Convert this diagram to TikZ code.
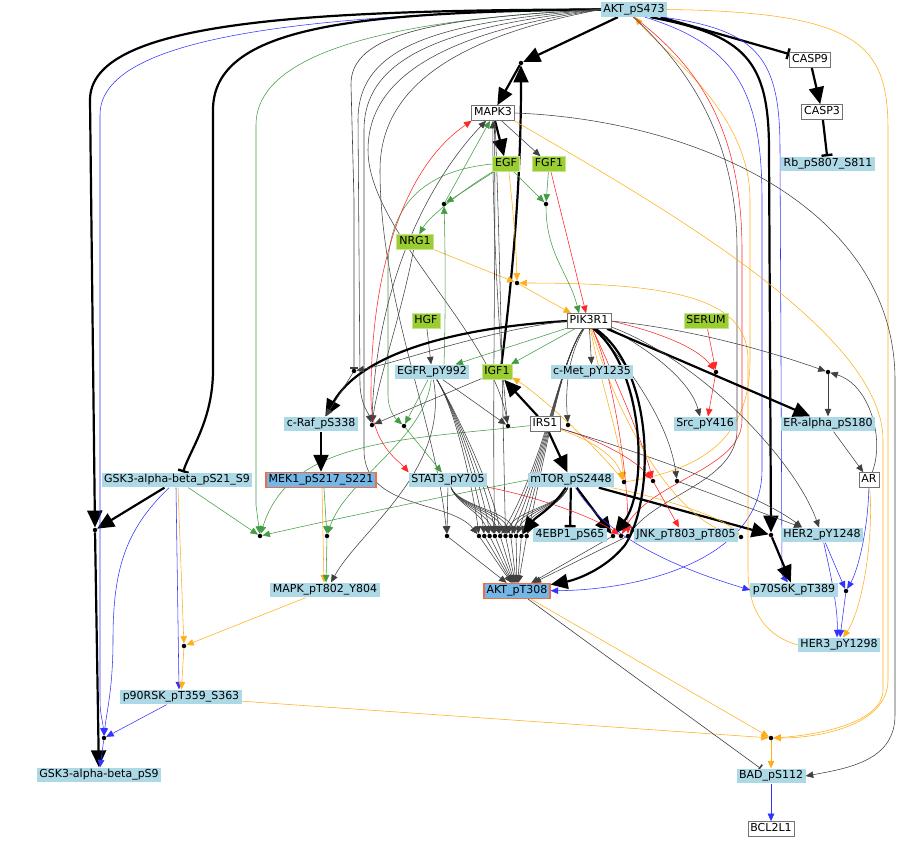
\documentclass[tikz,border=0pt]{standalone}
\usepackage{fontspec}
\setmainfont{DejaVu Sans}
\usetikzlibrary{arrows.meta,calc}
\pgfdeclarelayer{edges}
\pgfsetlayers{edges,main}
\definecolor{lb}{HTML}{ADD8E6}
\definecolor{yg}{HTML}{9ACD32}
\definecolor{hlfill}{RGB}{116,182,230}
\definecolor{hlline}{RGB}{240,110,70}
\definecolor{org}{HTML}{FFA500}
\definecolor{grn}{HTML}{228B22}
\definecolor{blu}{HTML}{0000FF}
\definecolor{rd}{HTML}{FF0000}
\tikzset{
  prot/.style={fill=lb, inner xsep=2.5pt, inner ysep=2pt, text height=8.3pt, text depth=2.6pt},
  gene/.style={prot, fill=white, draw=black!55, line width=0.7pt},
  lig/.style={prot, fill=yg, draw=yg!55, line width=0.7pt},
  hl/.style={prot, fill=hlfill, draw=hlline, line width=1.5pt},
  jn/.style={circle, fill=black, inner sep=0pt, minimum size=4.5pt},
  ed/.style={line width=0.55pt, draw=black!75, -{Triangle[length=7.5pt,width=6.5pt]}},
  Ed/.style={line width=2.2pt, draw=black, -{Triangle[length=17pt,width=15pt]}},
  inh/.style={line width=0.6pt, draw=black!75, -{Bar[width=8pt,line width=1.6pt]}},
  Inh/.style={line width=2.2pt, draw=black, -{Bar[width=11pt,line width=2.4pt]}},
  cg/.style={draw=grn!85}, cr/.style={draw=rd!85}, co/.style={draw=org!90}, cb/.style={draw=blu!80},
}
\begin{document}
\begin{tikzpicture}[x=1pt,y=-1pt,font=\fontsize{11}{13}\selectfont]
\useasboundingbox (0,0) rectangle (910,841);
% species
\node[prot] (akt473) at (634,9.5) {AKT\_pS473};
\node[gene] (casp9) at (810,60) {CASP9};
\node[gene] (casp3) at (822,112) {CASP3};
\node[prot] (rb) at (828,164) {Rb\_pS807\_S811};
\node[gene] (mapk3) at (493,113) {MAPK3};
\node[lig] (egf) at (506,164) {EGF};
\node[lig] (fgf1) at (549,164) {FGF1};
\node[lig] (nrg1) at (415,242) {NRG1};
\node[lig] (hgf) at (426,321) {HGF};
\node[gene] (pik3r1) at (589,321) {PIK3R1};
\node[lig] (serum) at (706,321) {SERUM};
\node[prot] (egfr) at (432,372) {EGFR\_pY992};
\node[lig] (igf1) at (497,372) {IGF1};
\node[prot] (cmet) at (592,372) {c-Met\_pY1235};
\node[prot] (craf) at (321,424) {c-Raf\_pS338};
\node[gene] (irs1) at (545,424) {IRS1};
\node[prot] (src) at (705,424) {Src\_pY416};
\node[prot] (era) at (828,424) {ER-alpha\_pS180};
\node[prot] (gsk21) at (177,480) {GSK3-alpha-beta\_pS21\_S9};
\node[hl] (mek1) at (321,480) {MEK1\_pS217\_S221};
\node[prot] (stat3) at (448,480) {STAT3\_pY705};
\node[prot] (mtor) at (571,480) {mTOR\_pS2448};
\node[gene] (ar) at (869,480) {AR};
\node[prot] (ebp) at (570,535) {4EBP1\_pS65};
\node[prot] (jnk) at (686,535) {JNK\_pT803\_pT805};
\node[prot] (her2) at (822,535) {HER2\_pY1248};
\node[prot] (mapk802) at (325,590) {MAPK\_pT802\_Y804};
\node[hl] (akt308) at (517,591) {AKT\_pT308};
\node[prot] (p70) at (794,590) {p70S6K\_pT389};
\node[prot] (her3) at (839,645) {HER3\_pY1298};
\node[prot] (p90) at (181,697) {p90RSK\_pT359\_S363};
\node[prot] (gsk9) at (99,775) {GSK3-alpha-beta\_pS9};
\node[prot] (bad) at (771,776) {BAD\_pS112};
\node[gene] (bcl) at (771,829) {BCL2L1};
% junctions
\node[jn] (dA) at (521,63) {};
\node[jn] (dB) at (444,204) {};
\node[jn] (dC) at (546,204) {};
\node[jn] (dD) at (517,283) {};
\node[jn] (dE) at (354,371) {};
\node[jn] (dF) at (372,425) {};
\node[jn] (dG) at (404,426) {};
\node[jn] (dH) at (508,426) {};
\node[jn] (dI) at (568,425) {};
\node[jn] (dJ) at (716,372) {};
\node[jn] (dK) at (828,372) {};
\node[jn] (dL) at (624,482) {};
\node[jn] (dM) at (653,481) {};
\node[jn] (dN) at (677,481) {};
\node[jn] (dO) at (260,536) {};
\node[jn] (dP) at (327,536) {};
\node[jn] (dQ) at (447,536) {};
\node[jn] (dS1) at (613,536) {};
\node[jn] (dS2) at (621,536) {};
\node[jn] (dS3) at (628,536) {};
\node[jn] (dT) at (741,537) {};
\node[jn] (dU) at (771,535) {};
\node[jn] (dV) at (846,591) {};
\node[jn] (dW) at (184,646) {};
\node[jn] (dX) at (104,738) {};
\node[jn] (dY) at (771,738) {};
\node[jn] (dZ) at (95,530) {};
\foreach \i [evaluate=\i as \xx using 479+5.3*\i] in {0,...,9}
  \node[jn] (R\i) at (\xx,536) {};

\begin{pgfonlayer}{edges}
% AKT_pS473: long routes on the left
\draw[Ed] (akt473.west) .. controls (300,10) and (90,22) .. (90,100) -- (dZ);
\draw[Ed] (dZ) -- (gsk9);
\draw[Ed] (gsk21) -- (dZ);
\draw[ed,cb] (akt473.west) .. controls (260,14) and (100,45) .. (100,115) -- (100,700) .. controls (100,715) and (103,722) .. (dX);
\draw[Inh] (akt473.west) .. controls (360,12) and (213,25) .. (213,110) -- (213,370) .. controls (213,420) and (190,450) .. ([xshift=6pt]gsk21.north);
\draw[ed,cg] (akt473.west) .. controls (420,18) and (256,45) .. (256,125) -- (256,505) -- (dO);
\draw[inh] (akt473.west) .. controls (430,18) and (350,35) .. (351,85) -- (354,200) -- (dE);
\draw[ed] (akt473.west) .. controls (440,22) and (358,45) .. (358,120) -- (360,385) .. controls (361,405) and (368,412) .. (dF);
\draw[ed] (akt473.west) .. controls (450,26) and (364,55) .. (364,130) -- (364,450) .. controls (364,510) and (450,500) .. (R0);
\draw[ed] (akt473.west) .. controls (460,30) and (368,70) .. (368,150) .. controls (368,230) and (490,330) .. (dH);
\draw[ed] (akt473.west) .. controls (470,34) and (380,80) .. (380,170) .. controls (380,300) and (435,420) .. (dQ);
% AKT_pS473: MAPK3 junction and caspases
\draw[Ed] (akt473) -- (dA);
\draw[Ed] (dA) -- (mapk3);
\draw[Ed] (igf1.60) .. controls (516,250) and (521,160) .. (dA);
\draw[Inh] (akt473) -- (casp9);
\draw[Ed] (casp9) -- (casp3);
\draw[Inh] (casp3) -- (rb);
% AKT_pS473: routes on the right
\draw[Ed] (akt473.-25) .. controls (745,35) and (769,60) .. (769,150) -- (dU);
\draw[ed,cb] (akt473.-15) .. controls (760,30) and (780,60) .. (780,150) -- (782,575) -- (p70);
\draw[ed,cb] (akt473.-35) .. controls (735,45) and (762,90) .. (762,200) -- (762,470) .. controls (762,560) and (640,590) .. (akt308);
\draw[ed,co] (akt473.east) .. controls (860,12) and (888,45) .. (888,130) -- (888,680) .. controls (888,725) and (820,738) .. (dY);
\draw[Ed] (dU) -- (p70);
\draw[Ed] (mtor) -- (dU);
\draw[ed,co] (dL) .. controls (700,470) and (750,440) .. (750,360) -- (750,200) .. controls (750,110) and (660,50) .. (akt473.-80);
\draw[ed,cr] (akt473.-90) .. controls (690,60) and (742,120) .. (742,250) -- (742,420) .. controls (742,470) and (650,480) .. (dS2);
\draw[ed] (akt473.-95) .. controls (680,60) and (737,130) .. (737,250) -- (737,430) .. controls (737,480) and (660,495) .. (dS3);
% MAPK3
\draw[Ed] (mapk3) -- (egf);
\draw[ed] (mapk3) -- (fgf1);
\draw[ed] (mapk3.east) .. controls (700,120) and (895,210) .. (895,380) -- (895,715) .. controls (895,760) and (850,768) .. (bad.east);
\draw[ed,co] (mapk3.-20) .. controls (650,200) and (883,330) .. (883,440) -- (883,690) .. controls (883,722) and (820,735) .. (dY);
\draw[ed,co] (her3.west) .. controls (780,640) and (748,625) .. (748,570) -- (748,360) .. controls (748,300) and (680,283) .. (dD);
% growth factors
\draw[ed,cg] (egf) -- (dB);
\draw[ed,cg] (egf) .. controls (470,185) and (430,215) .. (nrg1);
\draw[ed,cg] (egf) -- (dC);
\draw[ed,co] (egf.-70) .. controls (512,200) and (516,240) .. (dD);
\draw[ed,cg] (egf.west) .. controls (430,170) and (388,200) .. (388,270) -- (388,395) .. controls (388,410) and (395,418) .. (dG);
\draw[ed,cg] (fgf1) -- (dC);
\draw[ed,cr] (fgf1) -- ([xshift=-3pt]pik3r1.north);
\draw[ed,cg] (dC) .. controls +(0,50) and +(-10,-40) .. ([xshift=-10pt]pik3r1.north);
\draw[ed,co] (dD) -- ([xshift=-18pt]pik3r1.north);
\draw[ed,co] (nrg1) -- (dD);
\draw[ed,cg] (dB) -- ([xshift=-3pt]mapk3.south);
\draw[ed,cg] ([xshift=12pt]egfr.north) .. controls (446,300) and (445,240) .. (dB);
\draw[ed] (nrg1.-100) .. controls (400,320) and (378,380) .. (dF);
\draw[ed] (hgf) -- (egfr);
% inputs of MAPK3 from below
\draw[ed,cr,>={Triangle[length=7.5pt,width=6.5pt]},<->] (mapk3.-160) .. controls (400,170) and (370,280) .. (371,400) .. controls (372,445) and (400,462) .. (stat3.north west);
\draw[ed] (dF) .. controls (374,300) and (420,190) .. ([xshift=-7pt]mapk3.south);
\draw[ed] (dH) .. controls (500,360) and (492,220) .. (mapk3.south);
\draw[ed] (mapk3.-80) .. controls (496,250) and (492,420) .. (R3);
\draw[ed] (mapk3.-75) .. controls (500,250) and (503,420) .. (R5);
% PIK3R1
\draw[ed,cr] (serum) -- (dJ);
\draw[ed,cr] (pik3r1.east) .. controls (650,330) and (695,345) .. (dJ);
\draw[ed,cr] (dJ) -- ([xshift=3pt]src.north);
\draw[ed] (pik3r1.-20) .. controls (650,350) and (690,380) .. ([xshift=-5pt]src.north);
\draw[ed] (pik3r1) -- (cmet);
\draw[Ed] (pik3r1) -- (era);
\draw[ed] (pik3r1.east) .. controls (700,330) and (780,355) .. (dK);
\draw[ed] (dK) -- (era);
\draw[ed] (era) -- (ar);
\draw[ed] (ar) .. controls (885,440) and (870,385) .. (dK);
\draw[ed,cb] (ar) .. controls (868,530) and (858,570) .. (dV);
\draw[ed,co] (ar) .. controls (874,540) and (862,610) .. ([xshift=4pt]her3.north);
\draw[ed,cb] (her2) -- (dV);
\draw[ed,cb] (her2) .. controls (832,580) and (838,610) .. ([xshift=-2pt]her3.north);
\draw[ed,cb] (dV) -- (her3);
\draw[Ed] (pik3r1.west) .. controls (450,328) and (360,355) .. (craf);
\draw[ed] (pik3r1.west) .. controls (480,332) and (400,362) .. (dE);
\draw[ed] (dE) -- (craf);
\draw[ed,cg] (pik3r1) -- (egfr);
\draw[ed,cg] (pik3r1) -- (igf1);
\draw[ed] (pik3r1) .. controls (565,360) and (566,400) .. (dI);
\draw[ed] (igf1) -- (dF);
\draw[Ed] (irs1) -- (igf1);
\draw[Ed] (irs1) -- (mtor);
\draw[ed,co] (dL) .. controls (600,450) and (540,395) .. (igf1.-20);
\draw[ed,co] (irs1) .. controls (590,440) and (615,455) .. (dL);
\draw[ed,cr] (irs1) .. controls (600,440) and (635,460) .. (dM);
\draw[ed] (irs1) .. controls (650,455) and (760,495) .. ([xshift=-20pt]her2.north);
\draw[ed] (pik3r1.-15) .. controls (700,360) and (795,460) .. ([xshift=-3pt]her2.north);
\draw[ed] (pik3r1) .. controls (640,380) and (670,430) .. (dN);
\draw[ed,cr] (pik3r1) .. controls (625,400) and (645,450) .. (dM);
\draw[ed,cr] (dM) -- ([xshift=-7pt]jnk.north);
\draw[ed] (dN) -- (her2);
\draw[ed,co] (pik3r1) .. controls (600,380) and (620,440) .. (dL);
\draw[ed,co] (pik3r1) .. controls (612,400) and (665,515) .. (dT);
\draw[ed,cr] (pik3r1) .. controls (615,380) and (628,480) .. (dS3);
\draw[ed,co] (mtor) .. controls (650,495) and (720,515) .. (dT);
\draw[Ed] (pik3r1.-60) .. controls (645,370) and (648,490) .. (dS1);
\draw[Ed] (pik3r1.-50) .. controls (655,370) and (655,500) .. (625,545) .. controls (605,570) and (575,580) .. (akt308);
% mTOR
\draw[Inh] (mtor) -- (ebp);
\draw[Ed] (mtor) -- (dS1);
\draw[ed,cb] (mtor) .. controls (610,545) and (700,575) .. (p70.west);
\draw[ed,cg] (mtor.west) .. controls (450,495) and (330,520) .. (dO);
\draw[ed,cg] (irs1) .. controls (400,440) and (290,440) .. (dO);
\draw[ed,cg] (egfr) .. controls (425,440) and (345,480) .. (dP);
% MEK1, MAPK, p90RSK
\draw[Ed] (craf) -- (mek1);
\draw[ed,cg] ([xshift=3pt]mek1.south) -- (dP);
\draw[ed,co] ([xshift=1pt]mek1.south) -- ([xshift=-1pt]mapk802.north);
\draw[ed,cg] (dP) -- ([xshift=1pt]mapk802.north);
\draw[ed,cg] (gsk21) -- (dO);
\draw[ed] (egfr) .. controls (450,470) and (360,530) .. ([xshift=6pt]mapk802.north);
\draw[ed,co] (mapk802) -- (dW);
\draw[ed,co] ([xshift=1pt]gsk21.south) -- (dW);
\draw[ed,cb] ([xshift=-1pt]gsk21.south) -- ([xshift=-2pt]p90.north);
\draw[ed,co] (dW) -- (p90);
\draw[ed,cb] (gsk21) .. controls (125,530) and (113,570) .. (113,640) .. controls (113,690) and (106,715) .. (dX);
\draw[ed,cb] (p90) -- (dX);
\draw[ed,cb] (dX) -- (gsk9);
\draw[ed,co] (p90) -- (dY);
% STAT3, EGFR and the AKT_pT308 junctions
\draw[ed,cg] (egfr) -- (dG);
\draw[ed,cg] (dG) -- (stat3);
\draw[ed] (egfr) -- (dH);
\draw[ed] (stat3) -- (dQ);
\draw[ed] (dQ) -- (akt308);
\draw[ed,cr] (stat3) .. controls (530,495) and (590,515) .. (dS2);
\foreach \i in {0,...,9} \draw[ed] (R\i) -- (akt308);
\foreach \i in {0,...,4} \draw[ed] (egfr) .. controls +(25,40) and +(-5,-40) .. (R\i);
\foreach \i in {2,...,7} \draw[ed] (stat3) .. controls +(10,25) and +(-10,-25) .. (R\i);
\foreach \i in {5,...,9} \draw[ed] (mtor) .. controls +(-10,25) and +(10,-25) .. (R\i);
\foreach \i in {4,...,9} \draw[ed] (pik3r1) .. controls (560,360) and (545,460) .. (R\i);
\draw[Ed] (mtor) .. controls +(-20,30) and +(15,-20) .. (R8);
\draw[ed] (dS1) -- (akt308);
\draw[ed] (dS3) -- (akt308);
% AKT_pT308 and BAD
\draw[inh] (akt308) -- (bad);
\draw[ed,co] (akt308) -- (dY);
\draw[ed,co] (dY) -- (bad);
\draw[ed,cb] (bad) -- (bcl);
\end{pgfonlayer}
\end{tikzpicture}
\end{document}
